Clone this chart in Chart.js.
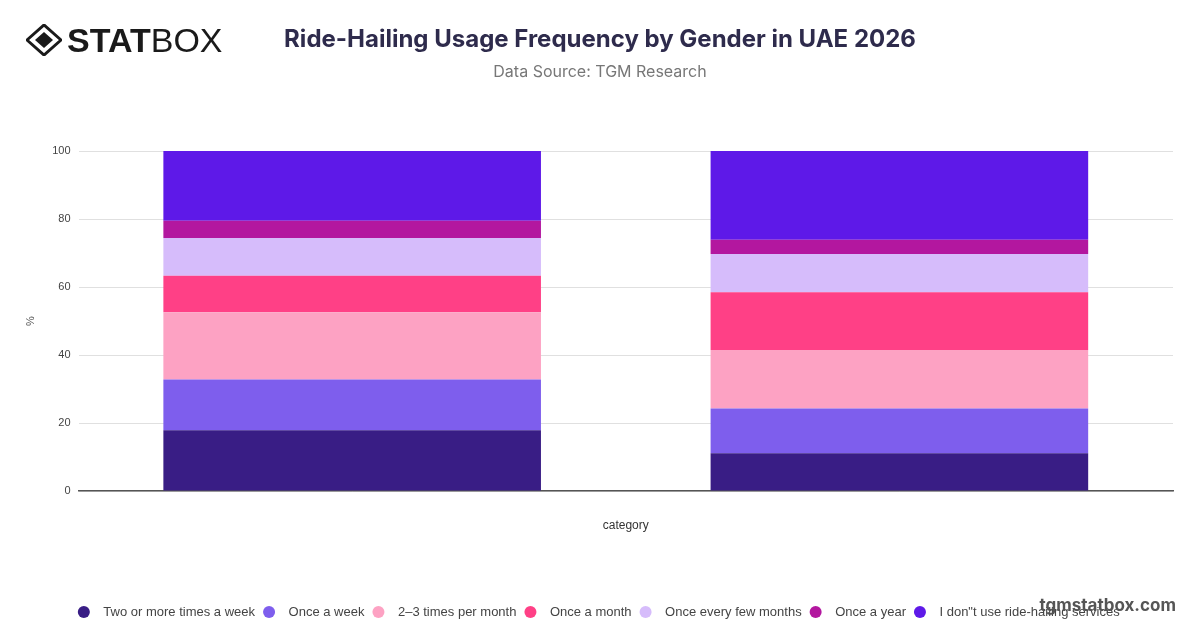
<!DOCTYPE html>
<html>
<head>
    <title>Ride-Hailing Usage Frequency by Gender in UAE 2026</title>
    <script src="https://cdn.jsdelivr.net/npm/chart.js"></script>
    <style>
        body {margin: 0; padding: 0; background: #fff; font-family: Inter, "Noto Sans", sans-serif;}
        #page {position: relative; width: 1200px; height: 628px; overflow: hidden;}
        #logo {position: absolute; left: 26px; top: 22px; height: 36px; display: flex; align-items: center;}
        #logo .stat {font: 900 34px "Liberation Sans", Arial, sans-serif; color: #1a1a1a; letter-spacing: 0px; margin-left: 5px;}
        #logo .box {font: 300 34px "Liberation Sans Narrow", "Liberation Sans", sans-serif; color: #1a1a1a;}
        #charttitle {position: absolute; top: 24px; left: 0; width: 1200px; text-align: center; font: bold 24px Inter, sans-serif; color: #2e2b4c;}
        #chartsubhead {position: absolute; top: 61px; left: 0; width: 1200px; text-align: center; font: 16px Inter, sans-serif; color: #777;}
        #watermark {position: absolute; right: 24px; top: 595px; font: bold 17px Inter, sans-serif; color: #555;}
        /* canvas a bit taller than the page so the legend sits lower */
        #chartBox {position: absolute; left: 0; top: 0; width: 1200px; height: 635px;}
    </style>
</head>
<body>
<div id="page">
    <div id="chartBox"><canvas id="myChart"></canvas></div>
    <div id="logo">
        <svg width="36" height="32" viewBox="0 0 36 32">
            <polygon points="18,1 35,16 18,31 1,16" fill="none" stroke="#1a1a1a" stroke-width="3"/>
            <polygon points="18,8 27,16 18,24 9,16" fill="#1a1a1a"/>
        </svg>
        <span class="stat">STAT</span><span class="box">BOX</span>
    </div>
    <div id="charttitle">Ride-Hailing Usage Frequency by Gender in UAE 2026</div>
    <div id="chartsubhead">Data Source: TGM Research</div>
    <div id="watermark">tgmstatbox.com</div>
</div>
<script>
    var categories = ['Male', 'Female'];
    var seriesNames = [
        'Two or more times a week',
        'Once a week',
        '2–3 times per month',
        'Once a month',
        'Once every few months',
        'Once a year',
        'I don"t use ride-hailing services'
    ];
    var twoOrMore   = [17.9, 11.1];
    var onceWeek    = [14.9, 13.2];
    var twoThree    = [19.8, 17.2];
    var onceMonth   = [10.7, 17.0];
    var fewMonths   = [11.1, 11.2];
    var onceYear    = [5.1, 4.2];
    var dontUse     = [20.5, 26.1];
    var yTicks = [0, 20, 40, 60, 80, 100];

    var colors = [
        '#391d85',
        '#7e5eed',
        '#fda2c3',
        '#ff4086',
        '#d6bcfb',
        '#b3179f',
        '#5e19e8'
    ];

    var values = [twoOrMore, onceWeek, twoThree, onceMonth, fewMonths, onceYear, dontUse];
    var datasets = values.map(function(v, i) {
        return {
            label: seriesNames[i],
            data: v,
            backgroundColor: colors[i],
            borderWidth: 0,
            barPercentage: 0.69,
            categoryPercentage: 1.0
        };
    });

    Chart.defaults.font.family = '"Liberation Sans", Arial, sans-serif';
    var ctx = document.getElementById('myChart').getContext('2d');
    new Chart(ctx, {
        type: 'bar',
        data: {
            labels: categories,
            datasets: datasets
        },
        options: {
            responsive: true,
            maintainAspectRatio: false,
            animation: false,
            layout: {
                padding: {top: 151, left: 24, right: 27, bottom: 6.5}
            },
            plugins: {
                legend: {
                    display: true,
                    position: 'bottom',
                    labels: {
                        usePointStyle: true,
                        pointStyle: 'circle',
                        boxWidth: 13,
                        boxHeight: 8.5,
                        padding: 7.5,
                        color: '#444',
                        font: {size: 13},
                        // a little extra room between the dot and its text
                        generateLabels: function(chart) {
                            var items = Chart.defaults.plugins.legend.labels.generateLabels(chart);
                            items.forEach(function(it) { it.text = '\u2002' + it.text; });
                            return items;
                        }
                    }
                },
                tooltip: {enabled: false}
            },
            scales: {
                y: {
                    stacked: true,
                    min: 0,
                    max: 100,
                    afterBuildTicks: function(axis) {
                        axis.ticks = yTicks.map(function(t) { return {value: t}; });
                    },
                    ticks: {
                        color: '#444',
                        font: {size: 11},
                        padding: 8
                    },
                    grid: {color: '#e0e0e0', drawTicks: false},
                    border: {display: false},
                    title: {
                        display: true,
                        text: '%',
                        color: '#555',
                        font: {size: 11},
                        padding: {top: 0, bottom: 7}
                    }
                },
                x: {
                    stacked: true,
                    ticks: {display: false},
                    grid: {display: false},
                    border: {display: true, color: '#555', width: 1.5},
                    title: {
                        display: true,
                        text: 'category',
                        color: '#333',
                        font: {size: 12},
                        padding: {top: 19, bottom: 65.5}
                    }
                }
            }
        }
    });
</script>
</body>
</html>
